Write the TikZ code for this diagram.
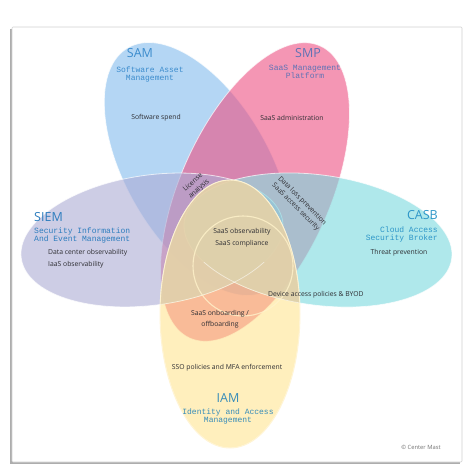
\documentclass[tikz,border=0pt]{standalone}
\usepackage{fontspec}
\setmainfont{Open Sans}
\newfontfamily\monof{Liberation Mono}
\definecolor{samC}{RGB}{130,188,238}
\definecolor{smpC}{RGB}{238,80,130}
\definecolor{siemC}{RGB}{172,172,213}
\definecolor{casbC}{RGB}{122,217,222}
\definecolor{iamC}{RGB}{255,225,125}
\definecolor{tanC}{RGB}{226,208,172}
\definecolor{samT}{RGB}{60,140,205}
\definecolor{smpT}{RGB}{95,115,180}
\definecolor{siemT}{RGB}{45,125,190}
\definecolor{casbT}{RGB}{45,150,200}
\definecolor{iamT}{RGB}{55,140,185}
\definecolor{bodyT}{RGB}{45,45,50}
\begin{document}
\begin{tikzpicture}[x=1pt,y=-1pt,
  petal/.style={fill opacity=0.6, draw=white, draw opacity=0.7, line width=0.8pt},
  ttl/.style={font=\fontsize{12.5}{13}\selectfont, inner sep=0pt},
  subt/.style={font=\monof\fontsize{8}{8}\selectfont, inner sep=0pt},
  body/.style={font=\fontsize{6.8}{9}\selectfont, text=bodyT, inner sep=0pt},
  siemE/.style={rotate around={8:(152,240)}},
  casbE/.style={rotate around={-8:(318,240)}}]
\useasboundingbox (0,0) rectangle (474,475);
% frame
\fill[black!32] (10,29) rectangle (460,464);
\draw[fill=white, draw=black!18, line width=0.6pt, rounded corners=1pt] (12,27) rectangle (462,462);
% SAM (kept out of CASB)
\begin{scope}
\pgfpathrectangle{\pgfpoint{0pt}{0pt}}{\pgfpoint{474pt}{-475pt}}
\pgfpathellipse{\pgfpoint{318pt}{-240pt}}{\pgfpoint{133.69pt}{-18.79pt}}{\pgfpoint{-9.05pt}{-64.37pt}}
\pgfseteorule
\pgfusepath{clip}
\path[petal, fill=samC, rotate around={30:(198,169)}] (198,169) ellipse [x radius=72pt, y radius=140pt];
\end{scope}
\path[petal, fill=smpC, rotate around={-24:(255,192)}] (255,192) ellipse [x radius=75pt, y radius=160pt];
\path[petal, fill=siemC, siemE] (152,240) ellipse [x radius=132pt, y radius=65pt];
\path[petal, fill=casbC, casbE] (318,240) ellipse [x radius=135pt, y radius=65pt];
\path[petal, fill=iamC, fill opacity=0.5] (230,314) ellipse [x radius=70pt, y radius=134pt];
% wash inside IAM where SIEM or CASB overlap it (one union)
\begin{scope}
\clip (230,314) ellipse [x radius=70pt, y radius=134pt];
\pgfpathellipse{\pgfpoint{152pt}{-240pt}}{\pgfpoint{130.72pt}{18.37pt}}{\pgfpoint{-9.05pt}{64.37pt}}
\pgfpathellipse{\pgfpoint{318pt}{-240pt}}{\pgfpoint{133.69pt}{-18.79pt}}{\pgfpoint{9.05pt}{64.37pt}}
\pgfsetfillcolor{tanC}
\pgfsetfillopacity{0.86}
\pgfusepath{fill}
\end{scope}
\begin{scope}
\clip (230,314) ellipse [x radius=70pt, y radius=134pt];
\clip (0,262) rectangle (474,475);
\draw[white, opacity=0.55, line width=0.7pt, siemE] (152,240) ellipse [x radius=132pt, y radius=65pt];
\draw[white, opacity=0.55, line width=0.7pt, casbE] (318,240) ellipse [x radius=135pt, y radius=65pt];
\end{scope}
\draw[draw=iamC!35, line width=0.9pt, opacity=0.9] (230,314) ellipse [x radius=70pt, y radius=134pt];
\draw[draw=iamC!40, line width=1.1pt, opacity=0.8] (243,266) circle [radius=50pt];
% SAM
\node[ttl, text=samT] (samt) at (140,53) {SAM};
\node[subt, text=samT, align=center] (sams) at (150,74) {Software Asset\\Management};
\node[body] (samb) at (156,118) {Software spend};
% SMP
\node[ttl, text=smpT] (smpt) at (308,53) {SMP};
\node[subt, text=smpT, align=center] (smps) at (305,72) {SaaS Management\\Platform};
\node[body] (smpb) at (292,118) {SaaS administration};
% SIEM
\node[ttl, text=siemT, anchor=west] (siemt) at (34,217) {SIEM};
\node[subt, text=siemT, align=left, anchor=north west] (siems) at (34,227) {Security Information\\And Event Management};
\node[body, align=left, anchor=north west, font=\fontsize{6.8}{12}\selectfont] (siemb) at (48,249) {Data center observability\\IaaS observability};
% CASB
\node[ttl, text=casbT, anchor=east] (casbt) at (438,215) {CASB};
\node[subt, text=casbT, align=right, anchor=north east] (casbs) at (438,226) {Cloud Access\\Security Broker};
\node[body] (casbb) at (399,253) {Threat prevention};
% IAM
\node[ttl, text=iamT] (iamt) at (228,398) {IAM};
\node[subt, text=iamT, align=center] (iams) at (228,416) {Identity and Access\\Management};
\node[body] (iamb) at (227,368) {SSO policies and MFA enforcement};
% intersections
\node[body, align=center, font=\fontsize{6.8}{12}\selectfont] (center) at (242,238) {SaaS observability\\SaaS compliance};
\node[body, align=center, font=\fontsize{6.8}{11}\selectfont] (onb) at (220,319) {SaaS onboarding /\\offboarding};
\node[body, anchor=west] (dev) at (268,295) {Device access policies \& BYOD};
\node[body, align=center, rotate=42] (lic) at (196,186) {License\\analysis};
\node[body, align=center, rotate=-45] (dlp) at (299,204) {Data loss prevention\\SaaS access security};
\node[font=\fontsize{5.8}{6}\selectfont, text=black!55, inner sep=0pt] (cm) at (421,447) {\textcopyright{} Center Mast};
\end{tikzpicture}
\end{document}
